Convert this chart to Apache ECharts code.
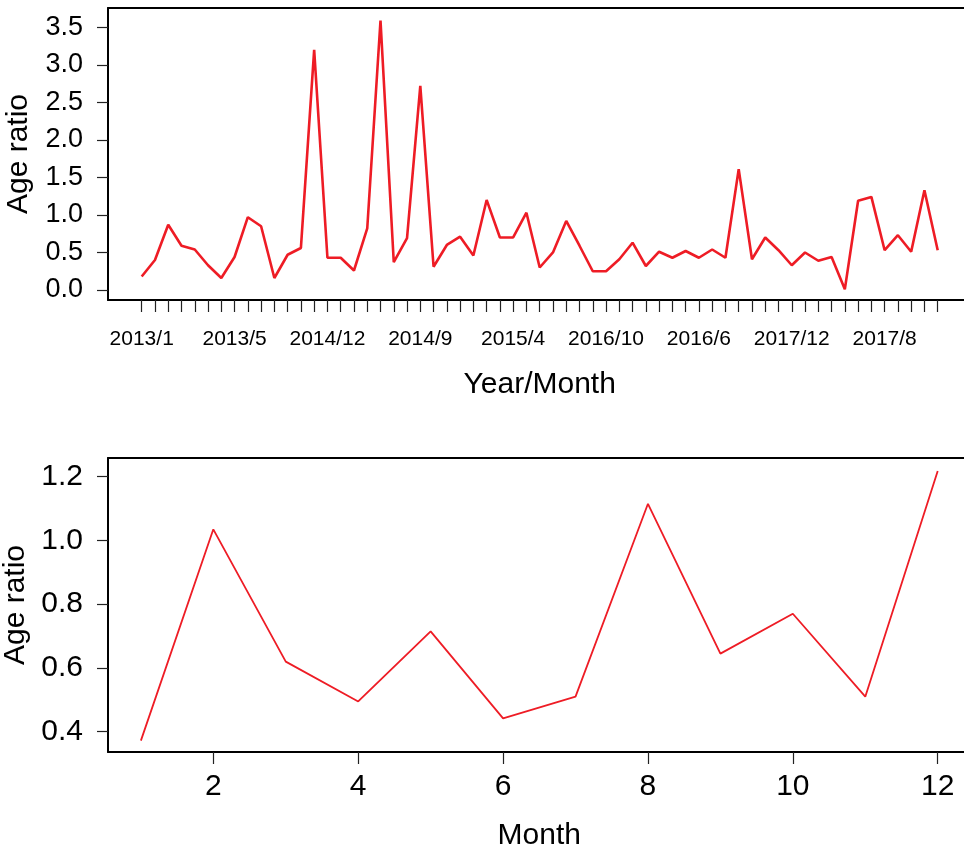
<!DOCTYPE html>
<html>
<head>
<meta charset="utf-8">
<script src="https://cdn.jsdelivr.net/npm/echarts@6/dist/echarts.min.js"></script>
<style>
html,body{margin:0;padding:0;background:#fff;}
#chart{width:964px;height:853px;}
</style>
</head>
<body>
<div id="chart"></div>
<script>
// ---- Data ----
const periodTickLabels = ['2013/1','2013/5','2014/12','2014/9','2015/4','2016/10','2016/6','2017/12','2017/8'];
const periodLabelStep = 7;
const ratioByPeriod = [
  0.18, 0.40, 0.87, 0.59, 0.54, 0.33, 0.16, 0.44, 0.97, 0.85,
  0.16, 0.47, 0.56, 3.20, 0.43, 0.43, 0.26, 0.82, 3.59, 0.37,
  0.69, 2.72, 0.31, 0.60, 0.71, 0.46, 1.20, 0.70, 0.70, 1.03,
  0.30, 0.50, 0.92, 0.59, 0.25, 0.25, 0.41, 0.63, 0.32, 0.51,
  0.43, 0.52, 0.43, 0.54, 0.43, 1.61, 0.41, 0.70, 0.53, 0.33,
  0.50, 0.39, 0.44, 0.01, 1.19, 1.24, 0.53, 0.73, 0.51, 1.33,
  0.53
];
const months = [1,2,3,4,5,6,7,8,9,10,11,12];
const ratioByMonth = [0.372, 1.035, 0.620, 0.495, 0.715, 0.442, 0.510, 1.115, 0.645, 0.770, 0.510, 1.218];
const topYTicks = [0, 0.5, 1.0, 1.5, 2.0, 2.5, 3.0, 3.5];
const bottomYTicks = [0.4, 0.6, 0.8, 1.0, 1.2];
const bottomXTicks = [2, 4, 6, 8, 10, 12];

// ---- Chart ----
const FONT = 'Liberation Sans, Arial, sans-serif';
const RED = '#ee1c25';
const periodIdx = ratioByPeriod.map((_, i) => i);
const periodLabelIdx = periodTickLabels.map((_, k) => k * periodLabelStep);

const tickStyle = {color: '#222', width: 1.2};
const boxLine = {show: true, onZero: false, lineStyle: {color: '#000', width: 2}};
const topRange = {x: [-2.54, 62.54], y: [-0.133, 3.757]};
const botRange = {x: [0.546, 12.454], y: [0.3364, 1.2587]};

function frameAxis(gridIndex, range) {
  return {
    gridIndex, type: 'value', min: range[0], max: range[1], position: 'top',
    axisLine: boxLine, axisTick: {show: false}, axisLabel: {show: false}, splitLine: {show: false}
  };
}

const chart = echarts.init(document.getElementById('chart'), null, {renderer: 'canvas'});
chart.setOption({
  animation: false,
  backgroundColor: '#fff',
  textStyle: {fontFamily: FONT, color: '#000'},
  grid: [
    {left: 108, top: 8, width: 863.4, height: 292, containLabel: false, outerBoundsMode: 'none', show: false},
    {left: 108, top: 458, width: 862.6, height: 294, containLabel: false, outerBoundsMode: 'none', show: false}
  ],
  xAxis: [
    {
      gridIndex: 0, type: 'value', min: topRange.x[0], max: topRange.x[1], position: 'bottom',
      splitLine: {show: false}, axisLine: boxLine,
      axisTick: {show: true, customValues: periodIdx, length: 12, inside: false, lineStyle: tickStyle},
      axisLabel: {customValues: periodLabelIdx, margin: 29, fontSize: 21, color: '#000', fontFamily: FONT,
        formatter: v => periodTickLabels[Math.round(v / periodLabelStep)] || ''},
      name: 'Year/Month', nameLocation: 'middle', nameGap: 70,
      nameTextStyle: {fontSize: 30, color: '#000', fontFamily: FONT}
    },
    {
      gridIndex: 1, type: 'value', min: botRange.x[0], max: botRange.x[1], position: 'bottom',
      splitLine: {show: false}, axisLine: boxLine,
      axisTick: {show: true, customValues: bottomXTicks, length: 12, lineStyle: tickStyle},
      axisLabel: {customValues: bottomXTicks, margin: 20, fontSize: 30, color: '#000', fontFamily: FONT},
      name: 'Month', nameLocation: 'middle', nameGap: 69,
      nameTextStyle: {fontSize: 30, color: '#000', fontFamily: FONT}
    },
    frameAxis(0, topRange.x),
    frameAxis(1, botRange.x)
  ],
  yAxis: [
    {
      gridIndex: 0, type: 'value', min: topRange.y[0], max: topRange.y[1], position: 'left',
      splitLine: {show: false}, axisLine: boxLine,
      axisTick: {show: true, customValues: topYTicks, length: 11, lineStyle: tickStyle},
      axisLabel: {customValues: topYTicks, margin: 25, fontSize: 27, color: '#000', fontFamily: FONT,
        formatter: v => v.toFixed(1)},
      name: 'Age ratio', nameLocation: 'middle', nameGap: 74, nameRotate: 90,
      nameTextStyle: {fontSize: 30, color: '#000', fontFamily: FONT}
    },
    {
      gridIndex: 1, type: 'value', min: botRange.y[0], max: botRange.y[1], position: 'left',
      splitLine: {show: false}, axisLine: boxLine,
      axisTick: {show: true, customValues: bottomYTicks, length: 11, lineStyle: tickStyle},
      axisLabel: {customValues: bottomYTicks, margin: 25, fontSize: 30, color: '#000', fontFamily: FONT,
        formatter: v => v.toFixed(1)},
      name: 'Age ratio', nameLocation: 'middle', nameGap: 74, nameRotate: 90,
      nameTextStyle: {fontSize: 30, color: '#000', fontFamily: FONT}
    }
  ],
  series: [
    {
      type: 'line', xAxisIndex: 0, yAxisIndex: 0,
      data: ratioByPeriod.map((v, i) => [periodIdx[i], v]),
      showSymbol: false, symbol: 'none', smooth: false,
      lineStyle: {color: RED, width: 2.6}
    },
    {
      type: 'line', xAxisIndex: 1, yAxisIndex: 1,
      data: ratioByMonth.map((v, i) => [months[i], v]),
      showSymbol: false, symbol: 'none', smooth: false,
      lineStyle: {color: RED, width: 1.8}
    }
  ]
});
</script>
</body>
</html>
